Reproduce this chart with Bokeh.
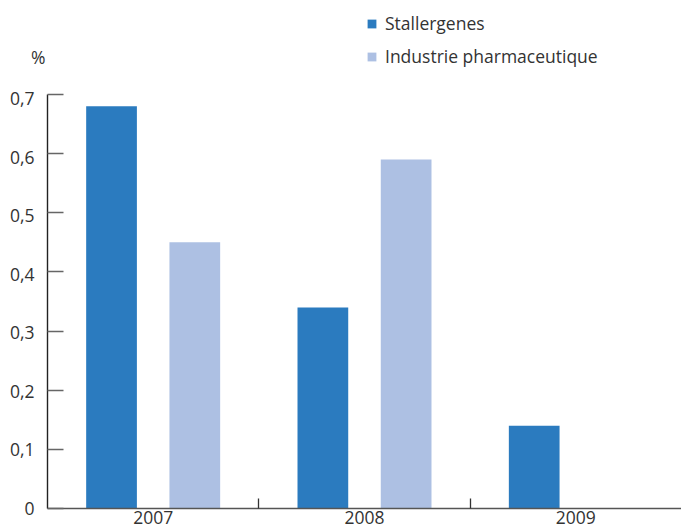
from bokeh.plotting import figure
from bokeh.models import (Range1d, FixedTicker, Legend, LegendItem, LinearAxis,
                          ColumnDataSource)
from bokeh.embed import file_html
from bokeh.resources import INLINE
import numpy as np

years = ["2007", "2008", "2009"]
stallergenes = [0.68, 0.34, 0.14]
industrie = [0.45, 0.59, np.nan]
y_ticks = [0, 0.1, 0.2, 0.3, 0.4, 0.5, 0.6, 0.7]
y_tick_labels = ["0", "0,1", "0,2", "0,3", "0,4", "0,5", "0,6", "0,7"]
unit_label = "%"
series_names = ["Stallergenes", "Industrie pharmaceutique"]
colors = ["#2b7bbf", "#adc0e3"]

FONT = "Open Sans"
TXT = "#333333"
FS = "17.5px"

centers = [i + 0.5 for i in range(len(years))]
src = ColumnDataSource(dict(
    x1=[c - 0.197 for c in centers],
    x2=[c + 0.197 for c in centers],
    s=stallergenes,
    ind=industrie,
))

Y_END = 0.7 * 508 / 414
LBL_END = 0.7 * 508 / 410  # number labels sit slightly below their ticks

p = figure(width=681, height=527, output_backend="svg", toolbar_location=None,
           x_range=Range1d(0, 3), y_range=Range1d(0, Y_END),
           min_border_left=47, min_border_right=0, min_border_top=0,
           min_border_bottom=19)
p.extra_y_ranges = {"lbl": Range1d(0, LBL_END)}
p.outline_line_color = None
p.xgrid.visible = False
p.ygrid.visible = False
p.background_fill_color = "white"
p.border_fill_color = "white"

r1 = p.vbar(x="x1", top="s", width=0.24, source=src, color=colors[0], line_color=None)
r2 = p.vbar(x="x2", top="ind", width=0.24, source=src, color=colors[1], line_color=None)

# y axis: line and ticks only (labels drawn by the axis further left)
ya = p.yaxis[0]
ya.ticker = FixedTicker(ticks=y_ticks)
ya.major_label_overrides = {t: "" for t in y_ticks}
ya.bounds = (0, 0.7)
ya.axis_line_color = "#222222"
ya.axis_line_width = 1.4
ya.major_tick_in = 16
ya.major_tick_out = 0
ya.major_tick_line_color = "#666666"
ya.major_tick_line_width = 1.5
ya.minor_tick_line_color = None
ya.major_label_standoff = 0
ya.major_label_text_color = None

# unit label axis ("%")
ua = LinearAxis(ticker=FixedTicker(ticks=[0.764]),
                major_label_overrides={0.764: unit_label},
                axis_line_color=None, major_tick_line_color=None,
                minor_tick_line_color=None, major_tick_in=0, major_tick_out=0,
                major_label_standoff=2,
                major_label_text_font=FONT, major_label_text_font_size=FS,
                major_label_text_color=TXT)
p.add_layout(ua, "left")

# number labels axis
na = LinearAxis(y_range_name="lbl", ticker=FixedTicker(ticks=y_ticks),
                bounds=(0, 0.7),
                major_label_overrides={t: l for t, l in zip(y_ticks, y_tick_labels)},
                axis_line_color=None, major_tick_line_color=None,
                minor_tick_line_color=None, major_tick_in=0, major_tick_out=0,
                major_label_standoff=-6,
                major_label_text_font=FONT, major_label_text_font_size=FS,
                major_label_text_color=TXT)
p.add_layout(na, "left")

# x axis
xa = p.xaxis[0]
xa.ticker = FixedTicker(ticks=centers, minor_ticks=[1, 2])
xa.major_label_overrides = {c: y for c, y in zip(centers, years)}
xa.axis_line_color = "#555555"
xa.axis_line_width = 1.7
xa.major_tick_in = 0
xa.major_tick_out = 0
xa.minor_tick_in = 10
xa.minor_tick_out = 0
xa.minor_tick_line_color = "#333333"
xa.minor_tick_line_width = 1.3
xa.major_label_standoff = 2
xa.major_label_text_font = FONT
xa.major_label_text_font_size = FS
xa.major_label_text_color = TXT

legend = Legend(items=[LegendItem(label=series_names[0], renderers=[r1]),
                       LegendItem(label=series_names[1], renderers=[r2])],
                location=(319, 440), orientation="vertical",
                glyph_width=11, glyph_height=11, label_height=20,
                spacing=9, padding=0, margin=0, label_standoff=8,
                border_line_color=None, background_fill_alpha=0,
                label_text_font=FONT, label_text_font_size=FS,
                label_text_color=TXT)
p.add_layout(legend)

open("out.html", "w").write(file_html(p, INLINE))
